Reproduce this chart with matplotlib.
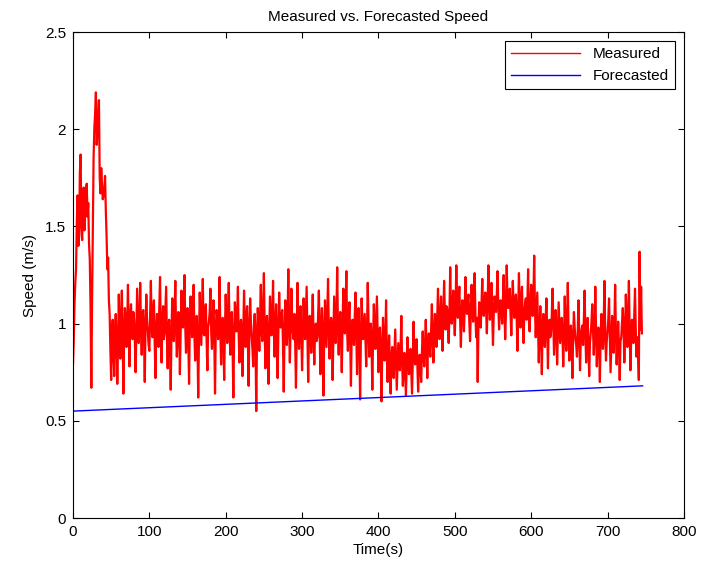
import numpy as np
import matplotlib
matplotlib.use("Agg")
import matplotlib.pyplot as plt


# ============================================================
# Data
# ============================================================

SAMPLE_STEP = 1  # seconds between measured samples

# one row = 20 seconds of measured speed (m/s)
MEASURED_SPEED = [
    0.79, 0.92, 1.10, 1.21, 1.28, 1.52, 1.66, 1.40, 1.45, 1.78, 1.87, 1.50, 1.43, 1.62, 1.70, 1.48, 1.57, 1.68, 1.72, 1.55,
    1.62, 1.41, 1.33, 1.08, 0.67, 1.12, 1.48, 1.86, 2.01, 2.08, 2.19, 1.92, 1.98, 2.06, 2.15, 1.75, 1.67, 1.80, 1.71, 1.64,
    1.66, 1.70, 1.76, 1.58, 1.45, 1.28, 1.34, 1.12, 1.05, 0.86, 0.71, 0.95, 1.02, 0.84, 0.73, 0.97, 1.05, 0.91, 0.69, 0.88,
    1.15, 0.97, 0.82, 1.03, 1.17, 0.93, 0.64, 0.95, 1.08, 1.01, 0.88, 0.99, 1.20, 0.94, 0.78, 1.04, 1.10, 0.96, 0.92, 1.06,
    1.02, 0.91, 0.75, 0.98, 1.18, 1.03, 0.90, 0.97, 1.21, 1.00, 0.84, 1.05, 1.07, 0.93, 0.70, 0.99, 1.15, 1.02, 0.96, 0.89,
    0.86, 1.04, 1.22, 0.98, 0.93, 1.06, 1.12, 0.90, 0.72, 0.97, 1.05, 0.94, 0.88, 1.08, 1.24, 0.96, 0.80, 1.01, 1.09, 0.92,
    0.95, 1.07, 1.19, 0.94, 0.77, 0.99, 1.02, 0.88, 0.66, 0.96, 1.13, 1.00, 0.91, 1.05, 1.22, 0.97, 0.83, 0.93, 1.06, 1.01,
    0.74, 0.95, 1.17, 1.03, 0.98, 1.09, 1.25, 0.99, 0.85, 0.96, 1.08, 0.92, 0.69, 1.00, 1.14, 1.04, 0.93, 0.98, 1.20, 0.94,
    0.81, 0.97, 1.04, 0.90, 0.62, 0.93, 1.16, 1.02, 0.89, 1.05, 1.23, 0.95, 0.94, 1.07, 1.10, 0.91, 0.76, 0.98, 1.01, 1.06,
    1.18, 0.96, 0.87, 1.02, 1.12, 0.94, 0.64, 0.97, 1.07, 1.03, 0.92, 1.00, 1.24, 0.95, 0.79, 0.99, 1.03, 0.90, 0.71, 0.98,
    1.15, 1.01, 0.90, 1.04, 1.21, 0.97, 0.84, 0.99, 1.06, 0.88, 0.62, 0.93, 1.11, 1.03, 0.96, 1.05, 1.19, 0.94, 0.80, 0.98,
    1.02, 0.95, 0.73, 0.96, 1.17, 1.00, 0.88, 1.03, 1.09, 0.92, 0.68, 0.97, 1.13, 1.01, 0.93, 0.87, 0.78, 0.99, 1.05, 0.91,
    0.55, 0.94, 1.08, 0.98, 0.86, 1.03, 1.20, 0.96, 0.91, 1.07, 1.26, 0.99, 0.77, 0.95, 1.04, 0.90, 0.69, 0.97, 1.14, 1.02,
    0.94, 1.05, 1.22, 0.97, 0.83, 0.99, 1.10, 0.93, 0.72, 0.96, 1.16, 1.01, 0.98, 1.04, 1.07, 0.89, 0.65, 0.95, 1.12, 1.00,
    0.89, 1.03, 1.28, 0.98, 0.80, 0.97, 1.18, 1.02, 0.95, 0.92, 1.05, 0.90, 0.67, 0.96, 1.21, 1.00, 0.87, 0.99, 1.09, 0.94,
    0.76, 0.95, 1.13, 1.01, 0.92, 1.06, 1.19, 0.96, 0.70, 0.93, 1.04, 0.98, 0.85, 1.02, 1.15, 0.94, 0.79, 0.97, 1.00, 0.91,
    0.93, 1.04, 1.17, 0.95, 0.74, 0.98, 1.08, 0.91, 0.63, 0.94, 1.12, 1.00, 0.88, 1.06, 1.23, 0.97, 0.82, 0.96, 1.03, 0.99,
    0.71, 0.94, 1.14, 1.02, 0.90, 1.05, 1.29, 0.97, 0.84, 1.00, 1.06, 0.92, 0.75, 0.99, 1.18, 1.03, 0.95, 1.08, 1.27, 0.96,
    0.86, 1.01, 1.11, 0.93, 0.68, 0.95, 1.02, 0.97, 0.89, 1.04, 1.16, 0.94, 0.74, 0.98, 1.08, 0.90, 0.61, 0.92, 1.13, 1.00,
    0.92, 0.99, 1.05, 0.91, 0.78, 0.96, 1.21, 1.02, 0.83, 0.94, 1.00, 0.89, 0.66, 0.93, 1.10, 0.97, 0.87, 1.01, 1.14, 0.95,
    0.75, 0.88, 0.98, 0.84, 0.60, 0.86, 1.03, 0.90, 0.81, 0.92, 1.12, 0.85, 0.70, 0.83, 0.94, 0.80, 0.64, 0.82, 0.88, 0.79,
    0.72, 0.84, 0.97, 0.81, 0.66, 0.78, 0.90, 0.83, 0.76, 0.87, 1.04, 0.80, 0.68, 0.79, 0.85, 0.74, 0.63, 0.77, 0.93, 0.82,
    0.74, 0.80, 0.87, 0.76, 0.64, 0.81, 1.01, 0.85, 0.79, 0.83, 0.92, 0.78, 0.65, 0.80, 0.84, 0.77, 0.70, 0.86, 0.96, 0.84,
    0.78, 0.89, 1.02, 0.87, 0.72, 0.90, 0.95, 0.88, 0.83, 0.97, 1.10, 0.93, 0.80, 0.96, 1.05, 0.98, 0.88, 1.02, 1.18, 1.00,
    0.92, 1.04, 1.14, 1.01, 0.86, 1.03, 1.22, 1.06, 0.97, 1.09, 1.08, 0.99, 0.90, 1.05, 1.29, 1.07, 1.00, 1.10, 1.17, 1.04,
    0.94, 1.08, 1.30, 1.11, 1.03, 1.13, 1.19, 1.02, 0.88, 1.06, 1.12, 1.04, 0.96, 1.09, 1.24, 1.07, 1.05, 1.12, 1.15, 1.01,
    0.91, 1.06, 1.20, 1.09, 1.01, 1.14, 1.26, 1.05, 0.93, 1.03, 0.70, 0.99, 1.11, 1.07, 0.98, 1.10, 1.23, 1.08, 1.04, 1.12,
    1.16, 1.07, 0.95, 1.10, 1.30, 1.13, 1.02, 1.08, 1.21, 1.04, 0.89, 1.05, 1.14, 1.11, 1.06, 1.15, 1.27, 1.09, 0.97, 1.06,
    1.12, 1.09, 1.00, 1.13, 1.25, 1.07, 0.92, 1.06, 1.30, 1.12, 1.08, 1.14, 1.18, 1.05, 0.94, 1.10, 1.22, 1.08, 1.03, 1.11,
    1.15, 1.04, 0.86, 1.07, 1.26, 1.10, 0.98, 1.12, 1.19, 1.03, 0.90, 1.05, 1.10, 1.13, 1.02, 1.09, 1.28, 1.06, 0.96, 1.08,
    1.20, 1.11, 1.04, 1.14, 1.35, 1.08, 0.93, 1.05, 1.16, 0.98, 0.80, 0.96, 1.09, 0.95, 0.74, 0.99, 1.05, 0.94, 0.88, 1.02,
    1.13, 0.97, 0.77, 0.99, 1.02, 0.93, 0.95, 1.04, 1.18, 1.00, 0.84, 0.96, 1.07, 0.98, 0.79, 0.94, 1.11, 1.01, 0.90, 0.97,
    1.03, 0.95, 0.78, 0.93, 1.14, 0.97, 0.86, 1.00, 1.21, 0.96, 0.81, 0.92, 0.99, 0.90, 0.72, 0.94, 1.06, 0.98, 0.92, 0.89,
    0.83, 0.96, 1.12, 0.94, 0.76, 0.91, 0.97, 0.99, 0.89, 1.02, 1.17, 0.95, 0.80, 0.93, 1.03, 0.88, 0.73, 0.90, 0.95, 1.01,
    1.10, 0.97, 0.84, 0.95, 1.19, 0.96, 0.78, 0.92, 0.98, 0.89, 0.70, 0.93, 1.05, 0.99, 0.87, 1.00, 1.22, 0.94, 0.81, 0.91,
    0.96, 1.02, 1.13, 0.94, 0.75, 0.90, 1.04, 0.97, 0.85, 0.99, 1.20, 0.95, 0.79, 0.92, 1.01, 0.88, 0.71, 0.91, 0.93, 1.00,
    1.08, 0.98, 0.80, 0.94, 1.15, 0.99, 0.88, 1.03, 1.22, 0.96, 0.76, 0.92, 1.02, 0.95, 0.90, 1.05, 1.18, 0.97, 0.83, 0.93,
    0.86, 0.71, 1.37, 0.97, 1.19, 0.95,
]

FORECAST_TIME = [0, 746]
FORECAST_SPEED = [0.55, 0.68]

X_TICKS = [0, 100, 200, 300, 400, 500, 600, 700, 800]
Y_TICKS = [0, 0.5, 1, 1.5, 2, 2.5]
Y_TICK_LABELS = ["0", "0.5", "1", "1.5", "2", "2.5"]


# ============================================================
# Plot
# ============================================================

def main():
    plt.rcParams["font.family"] = ["Liberation Sans", "DejaVu Sans"]

    measured_time = np.arange(len(MEASURED_SPEED)) * SAMPLE_STEP

    fig = plt.figure(figsize=(7.17, 5.71), dpi=100)
    ax = fig.add_axes([0.1018, 0.0928, 0.852, 0.851])

    # thicker stroke so the dense noise reads as a solid band, as in the original
    ax.plot(measured_time, MEASURED_SPEED, color="red", linewidth=1.6,
            label="Measured")
    ax.plot(FORECAST_TIME, FORECAST_SPEED, color="blue", linewidth=1.0,
            label="Forecasted")

    ax.set_xlim(0, 800)
    ax.set_ylim(0, 2.5)
    ax.set_xticks(X_TICKS)
    ax.set_yticks(Y_TICKS)
    ax.set_yticklabels(Y_TICK_LABELS)

    ax.tick_params(direction="in", top=True, right=True, length=4,
                   width=0.8, labelsize=11, pad=5)
    for spine in ax.spines.values():
        spine.set_linewidth(0.8)

    ax.set_xlabel("Time(s)", fontsize=11, labelpad=3)
    ax.set_ylabel("Speed (m/s)", fontsize=11, labelpad=6)
    ax.set_title("Measured vs. Forecasted Speed", fontsize=11, pad=8)

    leg = ax.legend(loc="upper right", fontsize=11, fancybox=False,
                    framealpha=1, edgecolor="black", handlelength=4.5,
                    borderaxespad=0.6)
    leg.get_frame().set_linewidth(0.8)
    leg.get_lines()[0].set_linewidth(1.0)

    fig.savefig("out.png", dpi=100)
    plt.close(fig)


if __name__ == "__main__":
    main()
